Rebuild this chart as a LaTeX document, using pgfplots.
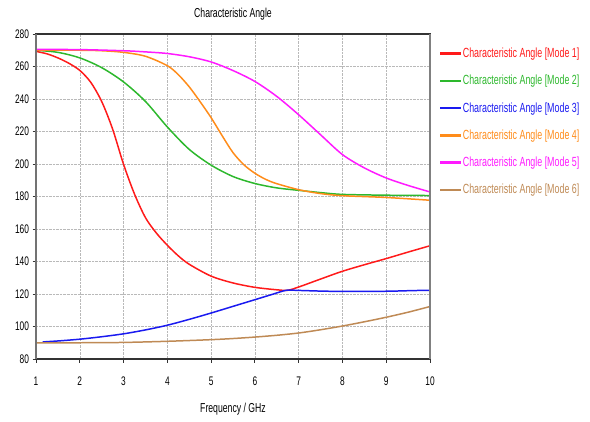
\documentclass[border=0pt]{standalone}
\usepackage{pgfplots}
\pgfplotsset{compat=1.18}
\usetikzlibrary{calc}
\usepackage{fontspec}
\setmainfont{Liberation Sans}[FakeStretch=0.67]
\definecolor{m1}{HTML}{FF1A1A}
\definecolor{m2}{HTML}{2DB82D}
\definecolor{m3}{HTML}{1A1AF0}
\definecolor{m4}{HTML}{FF8C1A}
\definecolor{m5}{HTML}{FF1AFF}
\definecolor{m6}{HTML}{BF8A55}
\begin{document}
\begin{tikzpicture}
\begin{axis}[
    name=ax,
    scale only axis,
    width=394bp, height=325bp,
    xmin=1, xmax=10, ymin=80, ymax=280,
    xtick={1,...,10}, ytick={80,100,...,280},
    grid=major,
    major grid style={densely dotted, draw=gray!55},
    axis line style={draw=black!80, line width=1.2pt},
    tick align=outside, xtick pos=left, ytick pos=left,
    major tick length=3.5bp,
    tick style={black!80, line width=0.8pt},
    /pgf/number format/assume math mode=true,
    ticklabel style={font=\fontsize{12.5}{14}\selectfont},
    x tick label style={yshift=-11bp},
    title={Characteristic Angle},
    title style={font=\fontsize{13}{15}\selectfont, yshift=4bp},
    xlabel={Frequency / GHz},
    xlabel style={font=\fontsize{13}{15}\selectfont, yshift=-10bp},
    legend style={at={(1.017,0.97)}, anchor=north west, draw=none, fill=none,
        font=\fontsize{13.3}{15}\selectfont, row sep=12.2bp},
    legend cell align=left,
    legend image code/.code={\fill[#1, draw=none] (0bp,-1.2bp) rectangle (21bp,1.2bp);},
    every axis plot/.append style={line width=1.5pt, smooth},
]
\addplot[m1] coordinates {(1,269.3) (1.25,267.8) (1.5,265.3) (1.75,262) (2,257.6) (2.25,250.3) (2.5,238.5) (2.75,221.5) (3,199.8) (3.25,181.5) (3.5,167) (3.75,157.5) (4,150) (4.25,143.5) (4.5,138.3) (5,131) (5.5,126.8) (6,124.1) (6.5,122.6) (6.75,122.3) (7,124.3) (7.5,129.2) (8,134) (8.5,138) (9,141.8) (9.5,145.8) (10,149.7)};
\addlegendentry{\textcolor{m1}{Characteristic Angle [Mode 1]}}
\addplot[m2] coordinates {(1,270) (1.5,268.7) (2,265.3) (2.5,259.3) (3,250.5) (3.5,238.5) (4,222.8) (4.5,209) (5,199.3) (5.5,192.3) (6,188) (6.5,185.3) (7,183.8) (7.5,182.4) (8,181.3) (9,180.8) (10,180.6)};
\addlegendentry{\textcolor{m2}{Characteristic Angle [Mode 2]}}
\addplot[m3] coordinates {(1.15,90.5) (1.55,91.2) (2,92.2) (2.5,93.7) (3,95.5) (3.5,97.9) (4,100.8) (4.5,104.4) (5,108.3) (5.5,112.4) (6,116.5) (6.4,119.8) (6.72,122.3) (7,122.2) (7.5,121.8) (8,121.6) (9,121.7) (9.6,122.1) (10,122.3)};
\addlegendentry{\textcolor{m3}{Characteristic Angle [Mode 3]}}
\addplot[m4] coordinates {(1,270) (2,270) (2.5,269.7) (3,268.7) (3.5,266.3) (4,260.5) (4.25,255) (4.5,247.5) (4.75,238.3) (5,228.5) (5.25,217.5) (5.5,207) (5.75,199.5) (6,194.3) (6.25,190.5) (6.5,187.9) (7,184.2) (7.5,181.8) (8,180.5) (9,179.4) (10,177.7)};
\addlegendentry{\textcolor{m4}{Characteristic Angle [Mode 4]}}
\addplot[m5] coordinates {(1,270.5) (2,270.4) (3,269.7) (3.5,269) (4,268) (4.5,266) (5,262.8) (5.5,257.5) (6,250.8) (6.5,241.6) (7,230.3) (7.5,218) (8,205.8) (8.5,197.6) (9,191.4) (9.5,186.8) (10,182.8)};
\addlegendentry{\textcolor{m5}{Characteristic Angle [Mode 5]}}
\addplot[m6] coordinates {(1,90) (2,90) (3,90.2) (4,90.9) (5,91.9) (5.5,92.6) (6,93.5) (6.5,94.6) (7,96) (7.5,98) (8,100.3) (8.5,102.9) (9,105.7) (9.5,108.8) (10,112.3)};
\addlegendentry{\textcolor{m6}{Characteristic Angle [Mode 6]}}
\end{axis}
\draw[gray, line width=1.3pt] (ax.north east) -- (ax.south east);
\draw[black!55, line width=1.2pt] (ax.north west) -- (ax.south west);
\pgfresetboundingbox
\path ($(ax.south west)+(-36bp,-62bp)$) rectangle ($(ax.north east)+(160bp,34bp)$);
\end{tikzpicture}
\end{document}
